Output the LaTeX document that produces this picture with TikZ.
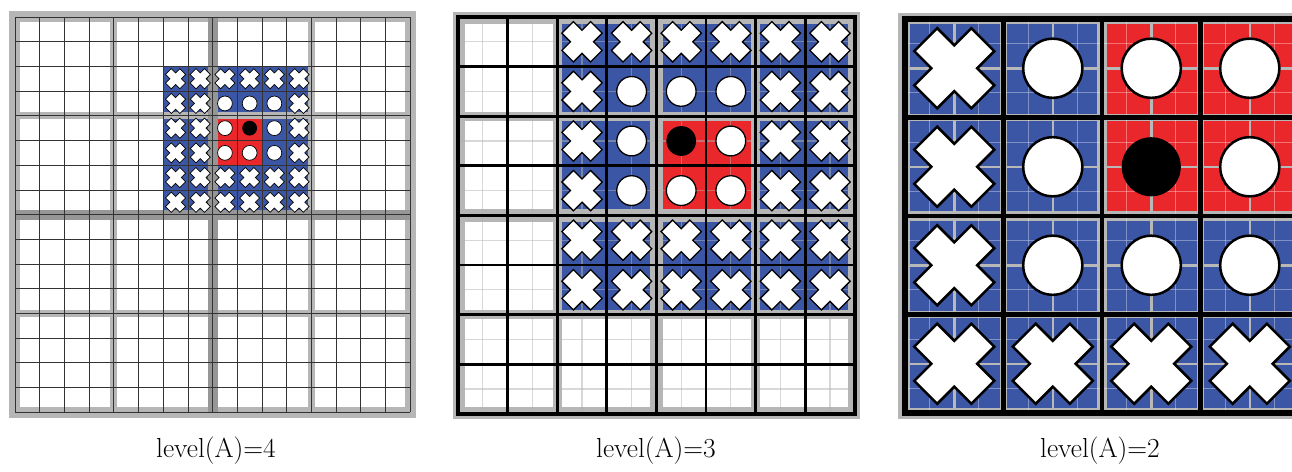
\documentclass[tikz,border=0pt]{standalone}
\usepackage{tikz}
\definecolor{cellblue}{RGB}{60,86,166}
\definecolor{cellred}{RGB}{234,40,44}
\definecolor{padgray}{RGB}{182,182,182}
\definecolor{midgray}{RGB}{150,150,150}
\definecolor{lightline}{RGB}{184,184,184}
\tikzset{
  gridthin/.style={line width=0.8pt,draw=black!80},
  gridbold/.style={line width=2.8pt,draw=black},
  gridbig/.style={line width=4.5pt,draw=black},
  fineA/.style={line width=1.2pt,draw=gray!60,draw opacity=0.5},
  fineB/.style={line width=1pt,draw=white,draw opacity=0.35},
  fineC/.style={line width=2.5pt,draw=lightline},
  lbl/.style={font=\fontsize{27.5}{33}\selectfont,anchor=base}
}
\newcommand\setpanel[8]{\def\pxo{#1}\def\pyo{#2}\def\ps{#3}\def\pA{#4}\def\pPA{#5}\def\pB{#6}\def\pPB{#7}\def\pPC{#8}}
\newcommand\padof[2]{\pgfmathsetmacro#1{ifthenelse(mod(#2,\pA)==0,\pPA,ifthenelse(mod(#2,\pB)==0,\pPB,\pPC))}}
\newcommand\fillcell[3]{%
  \padof\padL{#1}\padof\padR{#1+1}\padof\padT{#2}\padof\padB{#2+1}%
  \fill[#3] ({\pxo+(#1)*\ps+\padL},{\pyo+(#2)*\ps+\padT}) rectangle ({\pxo+(#1+1)*\ps-\padR},{\pyo+(#2+1)*\ps-\padB});}
\def\colofx{cellblue}\def\colofo{cellblue}\def\colofr{cellred}\def\colofd{cellred}
\newcommand\symx[3]{\draw[fill=white,line width=\symlw,line join=miter,shift={(#1,#2)},rotate=45,scale=#3]
  (0.41,0.165)--(0.165,0.165)--(0.165,0.41)--(-0.165,0.41)--(-0.165,0.165)--(-0.41,0.165)--(-0.41,-0.165)--(-0.165,-0.165)--(-0.165,-0.41)--(0.165,-0.41)--(0.165,-0.165)--(0.41,-0.165)--cycle;}
\newcommand\symo[3]{\draw[fill=white,line width=\symlw] (#1,#2) circle[radius={0.3*#3}];}
\newcommand\symr[3]{\symo{#1}{#2}{#3}}
\newcommand\symd[3]{\fill[black] (#1,#2) circle[radius={0.3*#3}];}
\newcommand\colorcells[2]{% data, first column
  \foreach \j/\row in #1 {\foreach \t [count=\i from #2] in \row {\edef\thecol{\csname colof\t\endcsname}\fillcell{\i}{\j}{fill=\thecol}}}}
\newcommand\symcells[2]{%
  \foreach \j/\row in #1 {\foreach \t [count=\i from #2] in \row {\pgfmathsetmacro\cx{\pxo+(\i+0.5)*\ps}\pgfmathsetmacro\cy{\pyo+(\j+0.5)*\ps}\csname sym\t\endcsname{\cx}{\cy}{\ps}}}}
\def\pdataA{2/{x,x,x,x,x,x},3/{x,x,o,o,o,x},4/{x,x,r,d,o,x},5/{x,x,r,r,o,x},6/{x,x,x,x,x,x},7/{x,x,x,x,x,x}}
\def\pdataB{0/{x,x,x,x,x,x},1/{x,o,o,o,x,x},2/{x,o,d,r,x,x},3/{x,o,r,r,x,x},4/{x,x,x,x,x,x},5/{x,x,x,x,x,x}}
\def\pdataC{0/{x,o,r,r},1/{x,o,d,r},2/{x,o,o,o},3/{x,x,x,x}}
\begin{document}
\begin{tikzpicture}[x=1pt,y=-1pt]
\useasboundingbox (0,0) rectangle (1292,471);
\begin{scope}
\clip (0,0) rectangle (1292,471);
% ---------- panel 1: level 4 ----------
\fill[padgray] (9,11) rectangle (416,418);
\fill[midgray] ({15+8*24.7-5},17) rectangle ({15+8*24.7+5},{17+16*24.7});
\fill[midgray] (15,{17+8*24.7-5}) rectangle ({15+16*24.7},{17+8*24.7+5});
\setpanel{15}{17}{24.7}{8}{5}{4}{3.5}{0}
\def\symlw{0.7pt}
\foreach \i in {0,...,15}{\foreach \j in {0,...,15}{\fillcell{\i}{\j}{fill=white}}}
\colorcells{\pdataA}{6}
\foreach \k in {0,...,16}{
  \draw[gridthin] ({15+\k*24.7},17) -- ++(0,{16*24.7});
  \draw[gridthin] (15,{17+\k*24.7}) -- ++({16*24.7},0);
}
\symcells{\pdataA}{6}
% ---------- panel 2: level 3 ----------
\fill[padgray] (453,12) rectangle (860,419);
\setpanel{458}{17}{49.6}{4}{6.5}{2}{4.5}{0}
\def\symlw{1.3pt}
\foreach \i in {0,...,7}{\foreach \j in {0,...,7}{\fillcell{\i}{\j}{fill=white}}}
\colorcells{\pdataB}{2}
\foreach \k in {0,...,7}{
  \draw[fineA] ({458+(\k+0.5)*49.6},17) -- ++(0,{8*49.6});
  \draw[fineA] (458,{17+(\k+0.5)*49.6}) -- ++({8*49.6},0);
}
\foreach \k in {1,...,7}{
  \draw[gridbold] ({458+\k*49.6},17) -- ++(0,{8*49.6});
  \draw[gridbold] (458,{17+\k*49.6}) -- ++({8*49.6},0);
}
\draw[gridbold,line width=3.5pt] (458,17) rectangle ({458+8*49.6},{17+8*49.6});
\symcells{\pdataB}{2}
% ---------- panel 3: level 2 ----------
\fill[padgray] (898,13) rectangle (1306,419);
\setpanel{905}{19}{98.5}{2}{5}{2}{5}{3.5}
\def\symlw{2.5pt}
\colorcells{\pdataC}{0}
\foreach \k in {0,...,3}{
  \foreach \f in {0.25,0.75}{
    \draw[fineB] ({905+(\k+\f)*98.5},19) -- ++(0,{4*98.5});
    \draw[fineB] (905,{19+(\k+\f)*98.5}) -- ++({4*98.5},0);
  }
  \draw[fineC] ({905+(\k+0.5)*98.5},19) -- ++(0,{4*98.5});
  \draw[fineC] (905,{19+(\k+0.5)*98.5}) -- ++({4*98.5},0);
}
\foreach \k in {1,...,3}{
  \draw[gridbig] ({905+\k*98.5},19) -- ++(0,{4*98.5});
  \draw[gridbig] (905,{19+\k*98.5}) -- ++({4*98.5},0);
}
\draw[gridbig,line width=6pt] (905,19) rectangle ({905+4*98.5},{19+4*98.5});
\symcells{\pdataC}{0}
\end{scope}
% ---------- labels ----------
\node[lbl] (l4) at (216,457) {level(A)=4};
\node[lbl] (l3) at (656,457) {level(A)=3};
\node[lbl] (l2) at (1100,457) {level(A)=2};
\end{tikzpicture}
\end{document}
